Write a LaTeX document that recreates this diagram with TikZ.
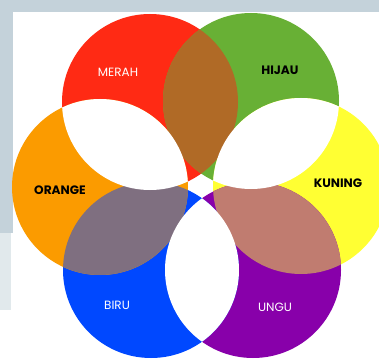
\documentclass[tikz,border=0pt]{standalone}
\usepackage{fontspec}
\setmainfont{Poppins}
\usepackage{tikz}

\definecolor{latar}{RGB}{196,210,218}
\definecolor{merah}{RGB}{255,42,20}
\definecolor{hijau}{RGB}{104,176,53}
\definecolor{kuning}{RGB}{255,255,51}
\definecolor{ungu}{RGB}{136,0,170}
\definecolor{biru}{RGB}{0,72,255}
\definecolor{oranye}{RGB}{251,155,0}
\definecolor{coklat}{RGB}{176,106,38}
\definecolor{abu}{RGB}{127,111,128}
\definecolor{merahmuda}{RGB}{192,124,112}

\tikzset{
  lingkaran/.style={radius=88pt},
  labelterang/.style={text=white,font=\fontsize{12}{14}\selectfont},
  labelgelap/.style={text=black,font=\bfseries\fontsize{12.2}{14}\selectfont}
}

\begin{document}
\begin{tikzpicture}[x=1pt,y=-1pt]
  \useasboundingbox (0,0) rectangle (379,358);
  % latar belakang layar
  \fill[white] (0,0) rectangle (379,358);
  \fill[latar] (0,0) rectangle (379,12);
  \fill[latar] (0,0) rectangle (13,233);
  \fill[latar!50] (0,233) rectangle (11,310);
  % pusat lingkaran
  \coordinate (pMerah) at (150,102);
  \coordinate (pHijau) at (251,101);
  \coordinate (pKuning) at (301,186);
  \coordinate (pUngu) at (253,270);
  \coordinate (pBiru) at (151,270);
  \coordinate (pOranye) at (100,187);
  % lingkaran
  \fill[merah] (pMerah) circle[lingkaran];
  \fill[hijau] (pHijau) circle[lingkaran];
  \fill[kuning] (pKuning) circle[lingkaran];
  \fill[ungu] (pUngu) circle[lingkaran];
  \fill[biru] (pBiru) circle[lingkaran];
  \fill[oranye] (pOranye) circle[lingkaran];
  % irisan berwarna
  \begin{scope}
    \clip (pMerah) circle[lingkaran];
    \fill[coklat] (pHijau) circle[lingkaran];
  \end{scope}
  \begin{scope}
    \clip (pOranye) circle[lingkaran];
    \fill[abu] (pBiru) circle[lingkaran];
  \end{scope}
  \begin{scope}
    \clip (pKuning) circle[lingkaran];
    \fill[merahmuda] (pUngu) circle[lingkaran];
  \end{scope}
  % irisan putih
  \begin{scope}
    \clip (pMerah) circle[lingkaran];
    \fill[white] (pOranye) circle[lingkaran];
  \end{scope}
  \begin{scope}
    \clip (pHijau) circle[lingkaran];
    \fill[white] (pKuning) circle[lingkaran];
  \end{scope}
  \begin{scope}
    \clip (pBiru) circle[lingkaran];
    \fill[white] (pUngu) circle[lingkaran];
  \end{scope}
  % label
  \node[labelterang] (tMerah) at (118,72) {MERAH};
  \node[labelgelap] (tHijau) at (280,70) {HIJAU};
  \node[labelgelap] (tKuning) at (338,183) {KUNING};
  \node[labelterang] (tUngu) at (275,307) {UNGU};
  \node[labelterang] (tBiru) at (117,305) {BIRU};
  \node[labelgelap] (tOranye) at (60,190) {ORANGE};
\end{tikzpicture}
\end{document}
